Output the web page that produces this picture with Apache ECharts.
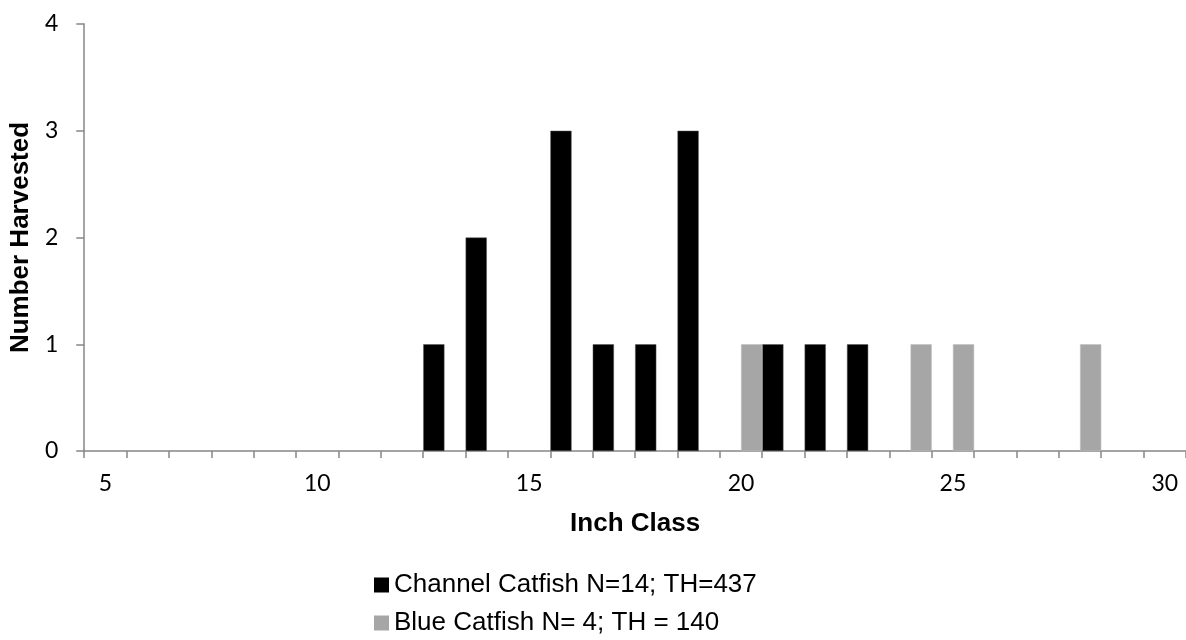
<!DOCTYPE html>
<html>
<head>
<meta charset="utf-8">
<script src="https://cdn.jsdelivr.net/npm/echarts@6/dist/echarts.min.js"></script>
<style>
html,body{margin:0;padding:0;background:#fff;}
#chart{width:1186px;height:640px;}
</style>
</head>
<body>
<div id="chart"></div>
<script>
var categories = ['5','6','7','8','9','10','11','12','13','14','15','16','17','18','19','20','21','22','23','24','25','26','27','28','29','30'];
var channelCatfish = [null,null,null,null,null,null,null,null,1,2,null,3,1,1,3,null,1,1,1,null,null,null,null,null,null,null];
var blueCatfish = [null,null,null,null,null,null,null,null,null,null,null,null,null,null,null,1,null,null,null,1,1,null,null,1,null,null];
var seriesNames = ['Channel Catfish N=14; TH=437', 'Blue Catfish N= 4; TH = 140'];
var yTicks = [0, 1, 2, 3, 4];

var chart = echarts.init(document.getElementById('chart'), null, {renderer: 'canvas'});
var axisColor = '#868686';
var legendText = {fontFamily: 'Liberation Sans, Arial', fontSize: 26, color: '#000'};
chart.setOption({
  animation: false,
  grid: {left: 82, right: -3, top: 24, bottom: 189, containLabel: false},
  xAxis: {
    type: 'category',
    data: categories,
    boundaryGap: true,
    name: 'Inch Class',
    nameLocation: 'middle',
    nameGap: 60,
    nameTextStyle: {fontFamily: 'Liberation Sans, Arial', fontWeight: 'bold', fontSize: 26, color: '#000'},
    axisLine: {lineStyle: {color: axisColor, width: 1.5}},
    axisTick: {show: true, interval: 0, alignWithLabel: false, length: 7, lineStyle: {color: axisColor, width: 1.5}},
    axisLabel: {interval: 4, margin: 21, fontFamily: 'Lato, Open Sans', fontSize: 23, color: '#000'}
  },
  yAxis: {
    type: 'value',
    min: yTicks[0],
    max: yTicks[yTicks.length - 1],
    interval: 1,
    name: 'Number Harvested',
    nameLocation: 'middle',
    nameGap: 49,
    nameTextStyle: {fontFamily: 'Liberation Sans, Arial', fontWeight: 'bold', fontSize: 26, color: '#000'},
    splitLine: {show: false},
    axisLine: {show: true, lineStyle: {color: axisColor, width: 1.5}},
    axisTick: {show: true, length: 8, lineStyle: {color: axisColor, width: 1.5}},
    axisLabel: {margin: 26, fontFamily: 'Lato, Open Sans', fontSize: 23, color: '#000'}
  },
  legend: [
    {
      orient: 'horizontal', left: 374, top: 572, padding: 0,
      itemWidth: 15, itemHeight: 15, icon: 'rect',
      itemStyle: {borderWidth: 0},
      textStyle: legendText,
      data: [seriesNames[0]]
    },
    {
      orient: 'horizontal', left: 374, top: 610, padding: 0,
      itemWidth: 15, itemHeight: 15, icon: 'rect',
      itemStyle: {borderWidth: 0},
      textStyle: legendText,
      data: [seriesNames[1]]
    }
  ],
  series: [
    {name: seriesNames[0], type: 'bar', data: channelCatfish, barGap: '0%', barCategoryGap: '0%',
     itemStyle: {color: '#000000', borderColor: '#595959', borderWidth: 0.5}},
    {name: seriesNames[1], type: 'bar', data: blueCatfish, barGap: '0%', barCategoryGap: '0%',
     itemStyle: {color: '#a6a6a6', borderColor: '#bfbfbf', borderWidth: 0.5}}
  ]
});
</script>
</body>
</html>
